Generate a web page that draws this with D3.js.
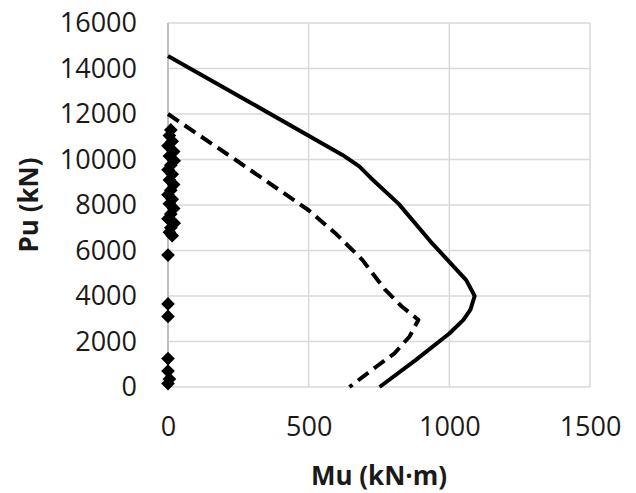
<!DOCTYPE html>
<html>
<head>
<meta charset="utf-8">
<script src="https://cdn.jsdelivr.net/npm/d3@7"></script>
<style>
	body { margin: 0; background: #fff; }
	.tick text { font-family: "Open Sans", "Liberation Sans", sans-serif; font-size: 27px; fill: #1a1a1a; }
	.axisTitle { font-family: "Open Sans", "Liberation Sans", sans-serif; font-size: 26px; font-weight: bold; fill: #1a1a1a; }
</style>
</head>
<body>
<div id="chart"></div>
<script>
// P-M interaction diagram, nominal and design curves + test points
var x_ticks = [0, 500, 1000, 1500];
var y_ticks = [0, 2000, 4000, 6000, 8000, 10000, 12000, 14000, 16000];

// nominal curve (solid)
var nominal_mu = [0, 300, 620, 680, 720, 820, 940, 1060, 1090, 1075, 1050, 1000, 880, 752];
var nominal_pu = [14550, 12450, 10200, 9700, 9200, 8050, 6300, 4700, 4000, 3400, 2950, 2350, 1180, 0];

// design curve (dashed)
var design_mu = [0, 250, 500, 600, 690, 770, 830, 890, 858, 805, 740, 645];
var design_pu = [12000, 9900, 7770, 6700, 5600, 4300, 3550, 2950, 2210, 1480, 890, 0];

// test points (diamonds)
var test_mu = [10, 5, 15, 0, 20, 5, 22, 10, 0, 15, 5, 20, 10, 0, 15, 5, 20, 10, 0, 22, 10, 5, 15, 0, 0, 0, 0, 0, 5, 0];
var test_pu = [11300, 11050, 10800, 10600, 10350, 10150, 9950, 9750, 9550, 9350, 9100, 8900, 8650, 8450, 8250, 8050,
	7850, 7600, 7400, 7200, 7000, 6800, 6650, 5800, 3650, 3100, 1250, 700, 350, 150];

var width = 636;
var height = 493;
var left = 168, right = 590, top_y = 23, bottom = 387;

var svg = d3.select('#chart').append('svg')
	.attr('width', width)
	.attr('height', height);

var xScale = d3.scaleLinear().domain([0, 1500]).range([left, right]);
var yScale = d3.scaleLinear().domain([0, 16000]).range([bottom, top_y]);

// gridlines
svg.append('g').selectAll('line').data(y_ticks).enter().append('line')
	.attr('x1', left).attr('x2', right)
	.attr('y1', function (d) { return yScale(d); })
	.attr('y2', function (d) { return yScale(d); })
	.attr('stroke', '#d9d9d9').attr('stroke-width', 1.5);

svg.append('g').selectAll('line').data(x_ticks).enter().append('line')
	.attr('y1', top_y).attr('y2', bottom)
	.attr('x1', function (d) { return xScale(d); })
	.attr('x2', function (d) { return xScale(d); })
	.attr('stroke', function (d) { return d == 0 ? '#bfbfbf' : '#d9d9d9'; })
	.attr('stroke-width', function (d) { return d == 0 ? 2 : 1.5; });

// axes (labels only)
var xAxis = svg.append('g')
	.attr('transform', 'translate(0,' + (bottom + 24) + ')')
	.call(d3.axisBottom(xScale).tickValues(x_ticks).tickFormat(d3.format('d')).tickSize(0).tickPadding(6));
xAxis.select('.domain').remove();

var yAxis = svg.append('g')
	.attr('transform', 'translate(' + (left - 31) + ',0)')
	.call(d3.axisLeft(yScale).tickValues(y_ticks).tickFormat(d3.format('d')).tickSize(0).tickPadding(0));
yAxis.select('.domain').remove();

// curves
var line = d3.line()
	.x(function (d) { return xScale(d[0]); })
	.y(function (d) { return yScale(d[1]); });

var nominal = nominal_mu.map(function (d, i) { return [d, nominal_pu[i]]; });
var design = design_mu.map(function (d, i) { return [d, design_pu[i]]; });
var tests = test_mu.map(function (d, i) { return [d, test_pu[i]]; });

svg.append('path')
	.datum(design)
	.attr('d', line)
	.attr('fill', 'none')
	.attr('stroke', '#000')
	.attr('stroke-width', 4)
	.attr('stroke-dasharray', '13,7')
	.attr('stroke-linejoin', 'round');

svg.append('path')
	.datum(nominal)
	.attr('d', line)
	.attr('fill', 'none')
	.attr('stroke', '#000')
	.attr('stroke-width', 4)
	.attr('stroke-linejoin', 'round');

// test points
svg.append('g').selectAll('path').data(tests).enter().append('path')
	.attr('transform', function (d) { return 'translate(' + xScale(d[0]) + ',' + yScale(d[1]) + ')'; })
	.attr('d', d3.symbol().type(d3.symbolDiamond2).size(120))
	.attr('fill', '#000');

// titles
svg.append('text')
	.attr('class', 'axisTitle')
	.attr('x', (left + right) / 2)
	.attr('y', 485)
	.attr('text-anchor', 'middle')
	.text('Mu (kN·m)');

svg.append('text')
	.attr('class', 'axisTitle')
	.attr('transform', 'translate(38,' + ((top_y + bottom) / 2) + ') rotate(-90)')
	.attr('text-anchor', 'middle')
	.text('Pu (kN)');
</script>
</body>
</html>
